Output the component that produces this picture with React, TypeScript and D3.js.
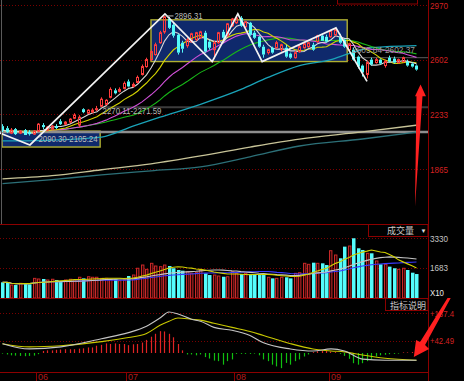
import React from "react";
import * as d3 from "d3";

// ---------------- data ----------------
const opens = [
  2154, 2140, 2107, 2134, 2107, 2127, 2114, 2100, 2120, 2161,
  2127, 2134, 2154, 2187, 2167, 2181, 2207, 2161, 2268, 2241,
  2248, 2270.11, 2288, 2301, 2348, 2395, 2388, 2408, 2455, 2421,
  2448, 2502, 2555, 2602, 2636, 2716, 2789, 2876, 2836, 2769,
  2716, 2696, 2723, 2736, 2749, 2783, 2723, 2669, 2716, 2789,
  2763, 2830, 2850, 2883, 2823, 2850, 2783, 2756, 2689, 2649,
  2682, 2682, 2669, 2682, 2642, 2615, 2656, 2682, 2689, 2702,
  2723, 2763, 2756, 2756, 2769, 2756, 2736, 2669, 2669, 2622,
  2562, 2502, 2602, 2582, 2602, 2562, 2615, 2609, 2582, 2589,
  2589, 2575, 2562,
];
const highs = [
  2167, 2154, 2141, 2141, 2127, 2134, 2127, 2127, 2174, 2174,
  2154, 2161, 2167, 2201, 2187, 2207, 2241, 2228, 2274, 2268,
  2274, 2290, 2348, 2335, 2415, 2408, 2415, 2455, 2468, 2448,
  2495, 2569, 2615, 2669, 2716, 2796, 2896.31, 2890, 2850, 2776,
  2729, 2749, 2783, 2789, 2796, 2796, 2736, 2729, 2789, 2803,
  2849, 2883, 2890, 2895, 2863, 2856, 2796, 2763, 2702, 2676,
  2689, 2729, 2709, 2702, 2649, 2662, 2702, 2716, 2722, 2716,
  2769, 2776, 2770, 2803, 2816, 2776, 2742, 2716, 2682, 2629,
  2569, 2595, 2615, 2615, 2609, 2602, 2629, 2622, 2609, 2622,
  2602, 2582, 2569,
];
const lows = [
  2114, 2107, 2100, 2094, 2100, 2094, 2090.3, 2094, 2114, 2134,
  2120, 2127, 2134, 2161, 2161, 2174, 2201, 2147, 2241, 2234,
  2241, 2255, 2281, 2294, 2341, 2368, 2381, 2401, 2415, 2415,
  2442, 2495, 2548, 2595, 2629, 2709, 2776, 2809, 2750, 2636,
  2649, 2682, 2716, 2729, 2742, 2649, 2669, 2609, 2709, 2742,
  2756, 2823, 2843, 2823, 2816, 2763, 2742, 2682, 2615, 2636,
  2642, 2676, 2656, 2615, 2608, 2609, 2649, 2676, 2682, 2662,
  2716, 2729, 2716, 2749, 2763, 2709, 2682, 2656, 2595, 2542,
  2488, 2475, 2562, 2575, 2569, 2548, 2582, 2575, 2575, 2582,
  2555, 2549, 2528,
];
const closes = [
  2127, 2114, 2127, 2100, 2120, 2094, 2100, 2120, 2167, 2147,
  2147, 2154, 2141, 2167, 2181, 2201, 2228, 2214, 2248, 2261,
  2261, 2271.59, 2335, 2328, 2401, 2375, 2401, 2442, 2421, 2435,
  2482, 2555, 2602, 2656, 2702, 2783, 2890, 2816, 2763, 2649,
  2675, 2736, 2776, 2783, 2789, 2656, 2682, 2716, 2783, 2749,
  2843, 2876, 2883, 2830, 2856, 2769, 2749, 2689, 2636, 2669,
  2649, 2716, 2702, 2622, 2615, 2649, 2689, 2709, 2716, 2669,
  2763, 2729, 2723, 2796, 2803, 2716, 2689, 2709, 2602, 2555,
  2515, 2582, 2569, 2602, 2575, 2589, 2589, 2582, 2602, 2615,
  2562, 2555, 2535,
];
const volumes = [
  870, 870, 720, 720, 815, 815, 760, 1090, 1055, 1055,
  1000, 1040, 1000, 905, 1000, 1040, 1000, 1150, 1090, 1180,
  1150, 1150, 1090, 1090, 1040, 1040, 960, 1000, 1220, 1275,
  1650, 1830, 1590, 1925, 1775, 1740, 1830, 1775, 1650, 1555,
  1515, 1460, 1370, 1425, 1555, 1370, 1275, 1275, 1220, 1180,
  1180, 1460, 1370, 1330, 1370, 1330, 1330, 1275, 1275, 1150,
  1090, 1090, 1150, 1150, 1090, 1370, 1405, 1925, 1870, 1960,
  1925, 1925, 1830, 2625, 2385, 2205, 2850, 2885, 3315, 2760,
  2665, 2480, 2480, 2055, 1870, 1870, 1740, 1650, 1590, 1650,
  1555, 1405, 1330,
];
const macdHist = [
  -2, -5, -8, -9, -10, -11, -10, -9, -4, 7,
  9, 9, 11, 12, 13, 13, 13, 15, 16, 19,
  19, 25, 28, 33, 31, 33, 31, 31, 27, 30,
  31, 36, 45, 56, 66, 75, 74, 66, 54, 31,
  9, -5, -5, -8, -5, -14, -19, -26, -28, -40,
  -28, -22, -3, -3, -3, -3, -2, -8, -22, -28,
  -40, -46, -52, -34, -40, -28, -22, -12, -5, 3,
  6, 8, 7, 5, 3, -3, -10, -20, -35, -40,
  -35, -28, -20, -12, -8, -6, -4, -3, -2, 2,
  2, 3, 2,
];
const macdDays = [0, 6, 13, 22, 28, 32, 35, 37, 39, 42, 44, 47, 51, 55, 58, 64, 69, 73, 76, 80, 85, 92];
const difValues = [32, 14, 21, 49, 70, 92, 120, 141, 134, 116, 109, 88, 78, 60, 35, 14, 7, 14, 7, -21, -25, -25];
const deaValues = [32, 21, 25, 39, 53, 67, 95, 109, 120, 116, 113, 102, 88, 74, 60, 32, 14, 7, 4, -7, -18, -25];

const ma60Days = [0, 11, 22, 29, 35, 44, 53, 59, 66, 73, 77, 82, 92];
const ma60Values = [2054, 2060, 2080, 2154, 2214, 2301, 2401, 2482, 2562, 2602, 2642, 2682, 2696];
const ma120Days = [0, 11, 22, 33, 44, 55, 66, 80, 92];
const ma120Values = [1799, 1820, 1860, 1900, 1953, 2013, 2067, 2115, 2160];
const ma250Days = [0, 11, 22, 33, 44, 55, 66, 80, 92];
const ma250Values = [1766, 1793, 1826, 1853, 1880, 1947, 2020, 2067, 2114];

const priceMaPeriods = [5, 10, 20, 30];
const volMaPeriods = [10, 20, 30];

const priceTicks = [2970, 2602, 2233, 1865];
const volTicks = [3330, 1683];
const macdTicks = [137.4, 42.49];
const macdTickLabels = ["+137.4", "+42.49"];
const monthLabels = ["06", "07", "08", "09"];
const monthStartDays = [8, 28, 52, 73];

// user-drawn annotations (day, price)
const zigDays = [-0.6, 6.1, 36.1, 46.6, 52.3, 57.7, 74.1, 81];
const zigPrices = [2107, 2027, 2910, 2589, 2910, 2589, 2816, 2455];
const boxDayFrom = [33, -0.1];
const boxDayTo = [76.6, 21.7];
const boxPriceHi = [2870, 2120];
const boxPriceLo = [2589, 2013];
const hLinePrices = [2114, 2281, 2615];
const hLineFromDays = [-0.6, 21.7, 78.3];
const rangeLabels = ["2896.31", "2270.11-2271.59", "2090.30-2105.24", "2605.84-2602.37"];
const upArrowDays = [92.9, 94.1, 93.33, 91.67, 92.0, 91.67];
const upArrowPrices = [2435, 2355, 2355, 1612, 2355, 2355];
const downArrowDays = [98.9, 99.6, 93.9, 94.8, 91.4, 91.9, 92.8];
const downArrowValues = [189, 189, 27.5, 13.7, -13.7, 44.7, 37.8];

const sma = (arr: number[], n: number) =>
  arr.map((_, i) => d3.mean(arr.slice(Math.max(0, i - n + 1), i + 1)) as number);

export default function App() {
  const N = closes.length;
  const AX = 428;
  const xc = d3.scaleLinear().domain([0, N - 1]).range([2.5, 2.5 + 4.5 * (N - 1)]);
  const px = (i: number) => Math.floor(xc(i)) + 0.5;
  const yP = d3.scaleLinear().domain([1865, 2970]).range([169, 5]);
  const yV = d3.scaleLinear().domain([0, 3330]).range([298, 238]);
  const yM = d3.scaleLinear().domain([0, 137.4]).range([353, 313]);

  const RED = "#8c0000";
  const UP = "#ff3c3c";
  const DOWN = "#54fcfc";
  const num = "Liberation Sans, Arial, sans-serif";
  const cjk = "Noto Sans CJK SC, sans-serif";

  const priceLine = d3.line<number>().x((_, i) => xc(i)).y((d) => yP(d));
  const keyLine = (days: number[], vals: number[], ys: d3.ScaleLinear<number, number>) =>
    d3.line<number>().x((_, i) => xc(days[i])).y((d) => ys(d)).curve(d3.curveMonotoneX)(vals) || "";
  const volLine = d3.line<number>().x((_, i) => xc(i)).y((d) => yV(d));
  const polyPath = (days: number[], vals: number[], ys: d3.ScaleLinear<number, number>) =>
    (d3.line<number>().x((_, i) => xc(days[i])).y((d) => ys(d))(vals) || "") + "Z";

  const priceMaColors = ["#d8d8d8", "#d4d400", "#d050d8", "#18b818"];
  const volMaColors = ["#d0d000", "#c4c4c4", "#3a3aff"];

  return (
    <svg width={464} height={381} style={{ position: "fixed", left: 0, top: 0, display: "block" }}>
      <rect x={0} y={0} width={464} height={381} fill="#000" />

      {/* grid lines */}
      {priceTicks.map((t) => (
        <line key={"pg" + t} x1={0} x2={AX} y1={Math.round(yP(t)) + 0.5} y2={Math.round(yP(t)) + 0.5}
          stroke="#7a0000" strokeDasharray="1,2" />
      ))}
      {volTicks.map((t) => (
        <line key={"vg" + t} x1={0} x2={AX} y1={Math.round(yV(t)) + 0.5} y2={Math.round(yV(t)) + 0.5}
          stroke="#7a0000" strokeDasharray="1,2" />
      ))}
      {macdTicks.map((t) => (
        <line key={"mg" + t} x1={0} x2={AX} y1={Math.round(yM(t)) + 0.5} y2={Math.round(yM(t)) + 0.5}
          stroke="#7a0000" strokeDasharray="1,2" />
      ))}

      {/* range boxes */}
      {boxDayFrom.map((d, k) => (
        <rect key={"box" + k} x={xc(d)} y={yP(boxPriceHi[k])} width={xc(boxDayTo[k]) - xc(d)}
          height={yP(boxPriceLo[k]) - yP(boxPriceHi[k])} fill="#0f296c" stroke="#b0b030" strokeWidth={1.4} />
      ))}

      {/* horizontal annotation lines */}
      <line x1={xc(hLineFromDays[0])} x2={AX} y1={yP(hLinePrices[0])} y2={yP(hLinePrices[0])} stroke="#8e8e8e" strokeWidth={2.5} />
      <line x1={xc(hLineFromDays[1])} x2={AX} y1={yP(hLinePrices[1])} y2={yP(hLinePrices[1])} stroke="#3c3c3c" strokeWidth={2} />
      <line x1={xc(hLineFromDays[2])} x2={AX} y1={yP(hLinePrices[2])} y2={yP(hLinePrices[2])} stroke="#4a4a4a" strokeWidth={1.2} />

      {/* long moving averages */}
      <path d={keyLine(ma250Days, ma250Values, yP)} fill="none" stroke="#2c7078" strokeWidth={1.3} />
      <path d={keyLine(ma120Days, ma120Values, yP)} fill="none" stroke="#c8c498" strokeWidth={1.3} />
      <path d={keyLine(ma60Days, ma60Values, yP)} fill="none" stroke="#1aa3b8" strokeWidth={1.3} />
      {priceMaPeriods.slice().reverse().map((p, k) => (
        <path key={"ma" + p} d={priceLine(sma(closes, p)) || ""} fill="none"
          stroke={priceMaColors[priceMaPeriods.length - 1 - k]} strokeWidth={1.1} />
      ))}

      {/* candles */}
      {closes.map((c, i) => {
        const o = opens[i];
        const up = c >= o;
        const x = px(i);
        const top = yP(Math.max(o, c));
        const bot = Math.max(yP(Math.min(o, c)), top + 1);
        const col = up ? UP : DOWN;
        return (
          <g key={"c" + i}>
            <line x1={x} x2={x} y1={yP(highs[i])} y2={top} stroke={col} />
            <line x1={x} x2={x} y1={bot} y2={yP(lows[i])} stroke={col} />
            {up ? (
              <rect x={x - 1} y={top} width={2} height={bot - top} fill="none" stroke={col} />
            ) : (
              <rect x={x - 1.5} y={top} width={3} height={bot - top} fill={col} />
            )}
          </g>
        );
      })}

      {/* zigzag */}
      <path d={d3.line<number>().x((_, i) => xc(zigDays[i])).y((d) => yP(d))(zigPrices) || ""}
        fill="none" stroke="#f2f2f2" strokeWidth={1.7} strokeLinejoin="miter" />

      {/* labels on price panel */}
      <line x1={xc(36) + 2} x2={xc(36) + 9} y1={yP(highs[36])} y2={yP(highs[36])} stroke="#b8b8b8" />
      <text x={xc(36) + 10} y={yP(highs[36]) + 3} fontFamily={num} fontSize={9} fill="#bcbcbc"
        textLength={28} lengthAdjust="spacingAndGlyphs">{rangeLabels[0]}</text>
      <text x={xc(22) + 1} y={yP(closes[21]) + 5} fontFamily={num} fontSize={9} fill="#b4b4b4"
        textLength={59} lengthAdjust="spacingAndGlyphs">{rangeLabels[1]}</text>
      <text x={xc(8)} y={yP(lows[6]) + 6.5} fontFamily={num} fontSize={9} fill="#bcbcbc"
        textLength={59} lengthAdjust="spacingAndGlyphs">{rangeLabels[2]}</text>
      <text x={xc(77) + 3} y={yP(2605.84) - 6} fontFamily={num} fontSize={9} fill="#9a9a9a"
        textLength={63} lengthAdjust="spacingAndGlyphs">{rangeLabels[3]}</text>

      {/* volume bars */}
      {volumes.map((v, i) => {
        const up = closes[i] >= opens[i];
        const x = px(i);
        const top = yV(v);
        return up ? (
          <rect key={"v" + i} x={x - 1} y={top} width={2.4} height={298 - top} fill="#2a0404" stroke="#c82828" />
        ) : (
          <rect key={"v" + i} x={x - 1.5} y={top} width={3.5} height={298 - top} fill={DOWN} />
        );
      })}
      {volMaPeriods.slice().reverse().map((p, k) => (
        <path key={"vma" + p} d={volLine(sma(volumes, p)) || ""} fill="none"
          stroke={volMaColors[volMaPeriods.length - 1 - k]} strokeWidth={1.1} />
      ))}

      {/* MACD */}
      {macdHist.map((v, i) => (
        <line key={"h" + i} x1={px(i)} x2={px(i)} y1={yM(0)} y2={yM(v)}
          stroke={v >= 0 ? "#e02424" : "#10c010"} strokeWidth={1.2} />
      ))}
      <path d={keyLine(macdDays, deaValues, yM)} fill="none" stroke="#c8c800" strokeWidth={1.1} />
      <path d={keyLine(macdDays, difValues, yM)} fill="none" stroke="#c4c4c4" strokeWidth={1.1} />

      {/* frame */}
      <line x1={1.5} x2={1.5} y1={0} y2={224} stroke="#5a5a5a" />
      <line x1={0} x2={AX} y1={224.5} y2={224.5} stroke={RED} />
      <line x1={0} x2={AX} y1={298.5} y2={298.5} stroke={RED} />
      <line x1={0} x2={AX} y1={372.5} y2={372.5} stroke={RED} />
      <line x1={AX + 0.5} x2={AX + 0.5} y1={0} y2={381} stroke={RED} />
      <rect x={337.5} y={-6} width={80} height={10} fill="none" stroke={RED} />

      {/* right axis labels */}
      {priceTicks.map((t) => (
        <text key={"pt" + t} x={430} y={yP(t) + 3.5} fontFamily={num} fontSize={9.5} fill="#d42020"
          textLength={18} lengthAdjust="spacingAndGlyphs">{String(t)}</text>
      ))}
      {volTicks.map((t) => (
        <text key={"vt" + t} x={430} y={yV(t) + 3.5} fontFamily={num} fontSize={9.5} fill="#c4c4c4"
          textLength={18} lengthAdjust="spacingAndGlyphs">{String(t)}</text>
      ))}
      <text x={430} y={295.5} fontFamily={num} fontSize={9.5} fill="#e8e8e8" textLength={14} lengthAdjust="spacingAndGlyphs">X10</text>
      {macdTicks.map((t, k) => (
        <text key={"mt" + t} x={430} y={yM(t) + 3.5} fontFamily={num} fontSize={9.5} fill="#d42020"
          textLength={24} lengthAdjust="spacingAndGlyphs">{macdTickLabels[k]}</text>
      ))}

      {/* indicator boxes */}
      <rect x={368.5} y={224.5} width={AX - 368.5} height={12} fill="#000" stroke={RED} />
      <text x={387} y={234} fontFamily={cjk} fontSize={9} fill="#c8c8c8">成交量</text>
      <text x={420.5} y={233} fontFamily={num} fontSize={6} fill="#e0e0e0">▼</text>
      <rect x={385.5} y={298.5} width={AX - 385.5} height={12} fill="#000" stroke={RED} />
      <text x={390} y={308.5} fontFamily={cjk} fontSize={9} fill="#c8c8c8">指标说明</text>

      {/* month axis */}
      {monthStartDays.map((d, k) => (
        <g key={"m" + k}>
          <line x1={Math.round(xc(d) - 2.25) + 0.5} x2={Math.round(xc(d) - 2.25) + 0.5} y1={372} y2={381} stroke={RED} />
          <text x={Math.round(xc(d) - 2.25) + 2} y={380} fontFamily={num} fontSize={9} fill="#b01c1c">{monthLabels[k]}</text>
        </g>
      ))}

      {/* red arrows */}
      <path d={polyPath(upArrowDays, upArrowPrices, yP)} fill="#ff2020" />
      <path d={polyPath(downArrowDays, downArrowValues, yM)} fill="#ff2020" />
    </svg>
  );
}
